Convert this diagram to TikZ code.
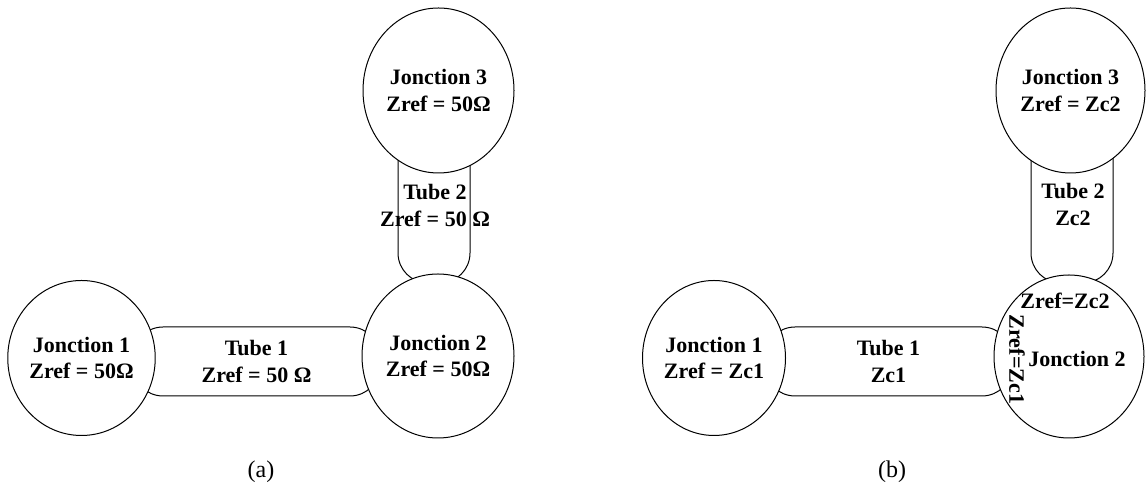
\documentclass[tikz,border=0pt]{standalone}
\usepackage{fontspec}
\setmainfont{Liberation Serif}
\usetikzlibrary{shapes.geometric,positioning}
\tikzset{
  jonction/.style={ellipse,draw,fill=white,line width=1pt,inner sep=0pt,align=center,minimum width=151,minimum height=164},
  tube/.style={rectangle,draw,line width=1pt,rounded corners=30,inner sep=0pt},
  tubetext/.style={align=center,inner sep=0pt},
  caption/.style={font=\fontsize{24}{28}\selectfont\mdseries}
}

\begin{document}
\begin{tikzpicture}[x=1pt,y=1pt,font=\fontsize{22}{26.5}\selectfont\bfseries]
\useasboundingbox (0,0) rectangle (1146,486);
% (a): all reference impedances at 50 ohm
\begin{scope}
 \node[tube,minimum width=247,minimum height=69] (tA1) at (256.5,124.5) {};
 \node[tube,minimum width=72,minimum height=155] (tA2) at (434,280.5) {};
 \node[jonction,minimum width=143,minimum height=155] (jA1) at (81.5,128) {Jonction 1\\Zref = 50Ω};
 \node[jonction,minimum width=152] (jA2) at (438,130) {Jonction 2\\Zref = 50Ω};
 \node[jonction,minimum height=165] (jA3) at (438.5,395.5) {Jonction 3\\Zref = 50Ω};
 \node[tubetext] (tA1t) at (tA1.center) {Tube 1\\Zref = 50 Ω};
 \node[tubetext] (tA2t) at ([shift={(1,0)}]tA2.center) {Tube 2\\Zref = 50 Ω};
 \node[caption] (capA) at (261,14) {(a)};
\end{scope}
% (b): each junction takes the impedance of the tube it meets
\begin{scope}
 \node[tube,minimum width=247,minimum height=69] (tB1) at (888.5,124.5) {};
 \node[tube,minimum width=82,minimum height=155] (tB2) at (1072,280.5) {};
 \node[jonction,minimum width=143,minimum height=155] (jB1) at (714,128) {Jonction 1\\Zref = Zc1};
 \node[jonction,minimum width=150,minimum height=163] (jB2) at (1069,129.5) {};
 \node[jonction,minimum width=149,minimum height=165] (jB3) at (1070.5,395.5) {Jonction 3\\Zref = Zc2};
 \node[tubetext] (tB1t) at (tB1.center) {Tube 1\\Zc1};
 \node[tubetext] (tB2t) at ([shift={(1,1)}]tB2.center) {Tube 2\\Zc2};
 \node[inner sep=0pt] (jB2t) at ([shift={(8,-2)}]jB2.center) {Jonction 2};
 \node[inner sep=0pt] (zB2) at ([shift={(-4,56)}]jB2.center) {Zref=Zc2};
 \node[inner sep=0pt,rotate=-90] (zB1) at ([shift={(-52,-3)}]jB2.center) {Zref=Zc1};
 \node[caption] (capB) at (892,14) {(b)};
\end{scope}
\end{tikzpicture}
\end{document}
